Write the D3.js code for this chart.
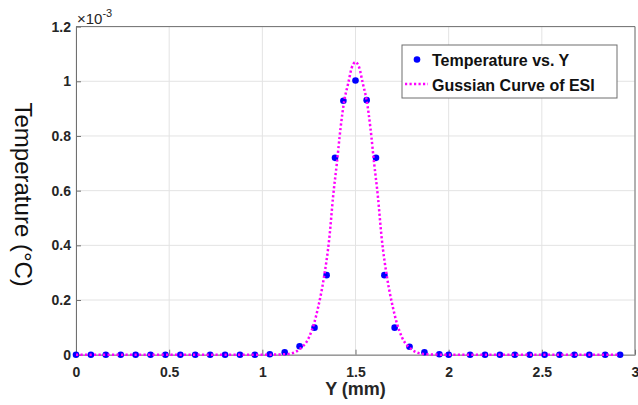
<!DOCTYPE html>
<html>
<head>
<meta charset="utf-8">
<script src="https://cdn.jsdelivr.net/npm/d3@7"></script>
<style>
    html, body { margin: 0; padding: 0; background: #fff; }
    svg { display: block; font-family: "Liberation Sans", Arial, sans-serif; }
</style>
</head>
<body>
<svg id="chart" width="638" height="405"></svg>
<script>
// data in units of 1e-3 degC (axis shows x10^-3)
const pointY = [0, 0.08, 0.16, 0.24, 0.32, 0.40, 0.48, 0.56, 0.64, 0.72, 0.80, 0.88, 0.96,
    1.04, 1.12, 1.20, 1.28, 1.345, 1.39, 1.435, 1.50, 1.56, 1.61, 1.655, 1.71,
    1.79, 1.87, 1.95, 2.00, 2.115, 2.195, 2.275, 2.355, 2.435, 2.515, 2.595, 2.675, 2.755, 2.84, 2.92];
const pointT = [0, 0, 0, 0, 0, 0, 0, 0, 0, 0, 0, 0, 0,
    0.0015, 0.009, 0.031, 0.099, 0.291, 0.72, 0.929, 1.003, 0.931, 0.72, 0.291, 0.099,
    0.029, 0.009, 0.0015, 0, 0, 0, 0, 0, 0, 0, 0, 0, 0, 0, 0];

// dotted fitted curve, samples
const curveY = [0, 0.5, 1.0, 1.1, 1.15, 1.2, 1.25, 1.28, 1.3, 1.33, 1.36, 1.38, 1.4, 1.42, 1.44, 1.46, 1.48, 1.5,
    1.52, 1.54, 1.56, 1.58, 1.6, 1.62, 1.64, 1.67, 1.7, 1.72, 1.75, 1.8, 1.85, 1.9, 2.0, 2.5, 2.92];
const curveT = [0, 0, 0, 0.001, 0.004, 0.02, 0.063, 0.12, 0.175, 0.28, 0.43, 0.58, 0.70, 0.83, 0.93, 0.99, 1.05, 1.07,
    1.05, 0.99, 0.93, 0.83, 0.70, 0.58, 0.43, 0.28, 0.175, 0.12, 0.063, 0.02, 0.004, 0.001, 0, 0, 0];

const xTicks = [0, 0.5, 1, 1.5, 2, 2.5, 3];
const yTicks = [0, 0.2, 0.4, 0.6, 0.8, 1, 1.2];
const legendLabels = ["Temperature vs. Y", "Gussian Curve of ESI"];

const svg = d3.select("#chart");
const plot = { left: 76, right: 635, top: 26.6, bottom: 354.7 };

const xScale = d3.scaleLinear().domain([0, 3]).range([plot.left, plot.right]);
const yScale = d3.scaleLinear().domain([0, 1.2]).range([plot.bottom, plot.top]);

// grid lines
const grid = svg.append("g");
grid.selectAll(".gx")
    .data(xTicks)
    .enter()
    .append("line")
    .attr("x1", d => xScale(d)).attr("x2", d => xScale(d))
    .attr("y1", plot.top).attr("y2", plot.bottom)
    .attr("stroke", "#e3e3e3").attr("stroke-width", 1);
grid.selectAll(".gy")
    .data(yTicks)
    .enter()
    .append("line")
    .attr("x1", plot.left).attr("x2", plot.right)
    .attr("y1", d => yScale(d)).attr("y2", d => yScale(d))
    .attr("stroke", "#e3e3e3").attr("stroke-width", 1);

// axes (ticks inward, like matlab)
const fmt = d => d3.format("~g")(d);
const xAxis = svg.append("g")
    .attr("transform", `translate(0, ${plot.bottom})`)
    .call(d3.axisBottom(xScale).tickValues(xTicks).tickSizeInner(-5).tickSizeOuter(0).tickPadding(12).tickFormat(fmt));
const yAxis = svg.append("g")
    .attr("transform", `translate(${plot.left}, 0)`)
    .call(d3.axisLeft(yScale).tickValues(yTicks).tickSizeInner(-5).tickSizeOuter(0).tickPadding(5).tickFormat(fmt));

[xAxis, yAxis].forEach(ax => {
    ax.select(".domain").attr("stroke", "#707070");
    ax.selectAll(".tick line").attr("stroke", "#707070");
    ax.selectAll("text")
        .attr("fill", "#262626")
        .style("font-size", "14px")
        .style("font-weight", "bold")
        .style("font-family", "'Liberation Sans', Arial, sans-serif");
});

// top and right edges of the box
svg.append("line")
    .attr("x1", plot.left).attr("x2", plot.right)
    .attr("y1", plot.top).attr("y2", plot.top)
    .attr("stroke", "#707070");
svg.append("line")
    .attr("x1", plot.right).attr("x2", plot.right)
    .attr("y1", plot.top).attr("y2", plot.bottom)
    .attr("stroke", "#707070");

// exponent label
const expo = svg.append("text")
    .attr("x", 77).attr("y", 23.5)
    .attr("fill", "#262626")
    .style("font-size", "15px");
expo.append("tspan").text("\u00d710");
expo.append("tspan").attr("dy", -7).style("font-size", "11px").text("-3");

// axis titles
svg.append("text")
    .attr("x", (plot.left + plot.right) / 2)
    .attr("y", 395)
    .attr("text-anchor", "middle")
    .attr("fill", "#262626")
    .style("font-size", "18px")
    .style("font-weight", "bold")
    .text("Y (mm)");

svg.append("text")
    .attr("transform", `translate(15, ${(plot.top + plot.bottom) / 2 + 4}) rotate(90)`)
    .attr("text-anchor", "middle")
    .attr("fill", "#111")
    .style("font-size", "24px")
    .text("Temperature (\u00b0C)");

// points
const points = pointY.map((y, i) => ({ y: y, t: pointT[i] }));
svg.append("g")
    .selectAll("circle")
    .data(points)
    .enter()
    .append("circle")
    .attr("cx", d => xScale(d.y))
    .attr("cy", d => yScale(d.t))
    .attr("r", 3.3)
    .attr("fill", "#0000ff");

// dotted gaussian curve on top
const curve = curveY.map((y, i) => ({ y: y, t: curveT[i] }));
const line = d3.line()
    .x(d => xScale(d.y))
    .y(d => yScale(d.t))
    .curve(d3.curveMonotoneX);
svg.append("path")
    .datum(curve)
    .attr("d", line)
    .attr("fill", "none")
    .attr("stroke", "#ff00ff")
    .attr("stroke-width", 2.5)
    .attr("stroke-dasharray", "2.2,2.3");

// legend
const legend = svg.append("g");
legend.append("rect")
    .attr("x", 402).attr("y", 45)
    .attr("width", 215).attr("height", 53)
    .attr("fill", "#fff")
    .attr("stroke", "#6e6e6e")
    .attr("stroke-width", 1);
legend.append("circle")
    .attr("cx", 417).attr("cy", 59.5)
    .attr("r", 3.3)
    .attr("fill", "#0000ff");
legend.append("line")
    .attr("x1", 405).attr("x2", 428)
    .attr("y1", 84).attr("y2", 84)
    .attr("stroke", "#ff00ff")
    .attr("stroke-width", 2.5)
    .attr("stroke-dasharray", "2.2,2.3");
legend.selectAll(".lbl")
    .data(legendLabels)
    .enter()
    .append("text")
    .attr("x", 432)
    .attr("y", (d, i) => 66 + i * 25)
    .attr("fill", "#111")
    .style("font-size", "16px")
    .style("font-weight", "bold")
    .text(d => d);
</script>
</body>
</html>
